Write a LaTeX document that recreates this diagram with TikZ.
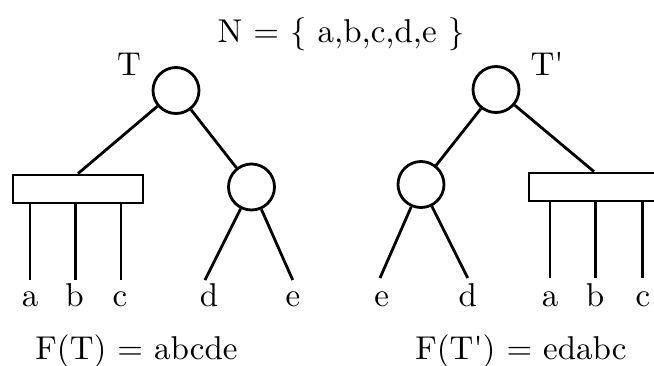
\documentclass[tikz,border=0pt]{standalone}
\usepackage{fontspec}
\setmainfont{lmroman10-regular.otf}
\newcommand\lblfont{\fontsize{33}{40}\selectfont}
\begin{document}
\begin{tikzpicture}[x=1pt,y=-1pt,line width=2.8pt,
  lbl/.style={font=\lblfont,anchor=base,inner sep=0pt},
  vnode/.style={draw,circle,minimum size=46pt,inner sep=0pt},
  pnode/.style={draw,rectangle,minimum width=130pt,minimum height=28pt,inner sep=0pt}]
\useasboundingbox (0,0) rectangle (654,365);
% title
\node[lbl] (title) at (341,42.5) {N = \{ a,b,c,d,e \}};
% ---- left tree T
\node[vnode] (rL) at (176,90.5) {};
\node[lbl] (tL) at (129,75) {T};
\node[pnode] (pL) at (78,189) {};
\node[vnode] (cL) at (251.5,187) {};
\coordinate (aL) at (30,280);
\coordinate (bL) at (75.7,280);
\coordinate (cLf) at (121,280);
\coordinate (dL) at (205,280);
\coordinate (eL) at (292.7,280);
\draw (rL) -- (pL.north);
\draw (rL) -- (cL);
\draw (pL.south -| aL) -- (aL);
\draw (pL.south -| bL) -- (bL);
\draw (pL.south -| cLf) -- (cLf);
\draw (cL) -- (dL);
\draw (cL) -- (eL);
\node[lbl] (la) at (30,306.5) {a};
\node[lbl] (lb) at (74.5,306.5) {b};
\node[lbl] (lc) at (120,306.5) {c};
\node[lbl] (ld) at (209,306.5) {d};
\node[lbl] (le) at (293,306.5) {e};
\node[lbl] (fL) at (136.5,359) {F(T) = abcde};
% ---- right tree T'
\node[vnode] (rR) at (496,89.5) {};
\node[lbl] (tR) at (547,75) {T\textquotesingle};
\node[vnode] (cR) at (421,184.5) {};
\node[pnode] (pR) at (594,187) {};
\coordinate (eR) at (380,278);
\coordinate (dR) at (467.7,278);
\coordinate (aR) at (550,278);
\coordinate (bR) at (595.7,278);
\coordinate (cRf) at (642.3,278);
\draw (rR) -- (cR);
\draw (rR) -- (pR.north);
\draw (cR) -- (eR);
\draw (cR) -- (dR);
\draw (pR.south -| aR) -- (aR);
\draw (pR.south -| bR) -- (bR);
\draw (pR.south -| cRf) -- (cRf);
\node[lbl] (re) at (381.7,306.5) {e};
\node[lbl] (rd) at (467.7,306.5) {d};
\node[lbl] (ra) at (550,306.5) {a};
\node[lbl] (rb) at (595,306.5) {b};
\node[lbl] (rc) at (643,306.5) {c};
\node[lbl] (fR) at (521,359) {F(T\textquotesingle) = edabc};
\end{tikzpicture}
\end{document}
